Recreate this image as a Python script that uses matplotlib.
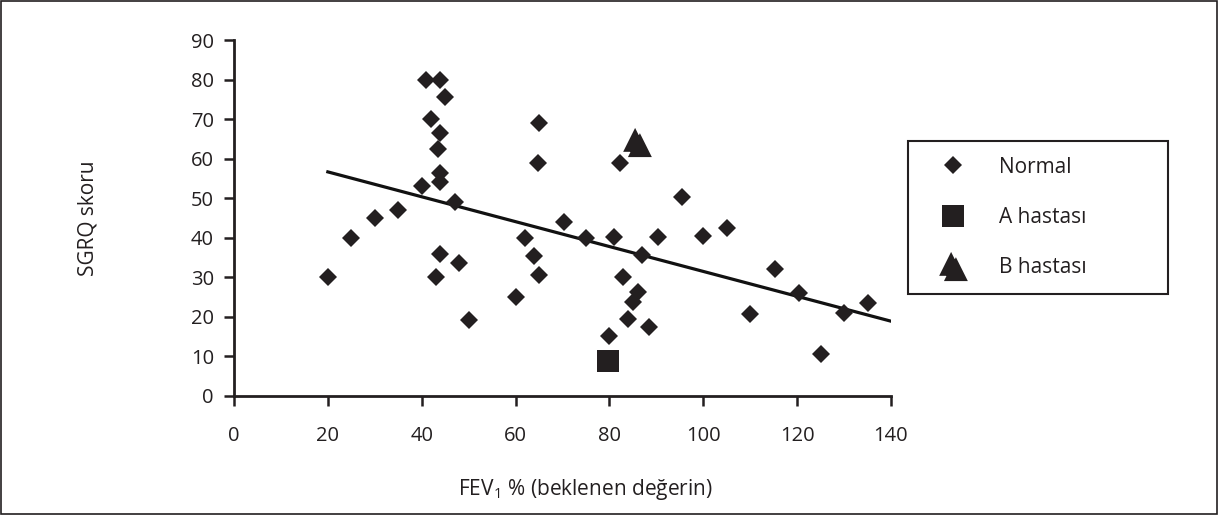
import matplotlib
matplotlib.use("Agg")
import matplotlib.pyplot as plt
import numpy as np
from matplotlib.path import Path
from matplotlib.lines import Line2D

plt.rcParams['font.family'] = ['Open Sans', 'DejaVu Sans']
plt.rcParams['mathtext.fontset'] = 'custom'
plt.rcParams['mathtext.rm'] = 'Open Sans'

# data
normal_x = [20, 25, 30, 35, 40, 41, 44, 45, 42, 44, 43.5, 44, 44, 47, 44, 43, 48, 50,
            60, 62, 64, 65, 64.7, 65, 70.4, 75, 81, 82.3, 87, 90.4, 95.5, 100, 105,
            82.8, 86.2, 85, 84, 88.4, 80, 115.3, 120.4, 110, 130, 135, 125]
normal_y = [30, 40, 45, 47, 53, 80, 80, 75.5, 70, 66.5, 62.5, 56.5, 54, 49, 36, 30, 33.5, 19.3,
            25, 40, 35.3, 30.6, 59, 69, 44, 40, 40.3, 59, 35.6, 40.3, 50.4, 40.4, 42.5,
            30.2, 26.3, 23.8, 19.4, 17.5, 15.2, 32, 26, 20.7, 21, 23.5, 10.6]
a_x = [79.8]
a_y = [8.9]
b_x = [85.8]
b_y = [64.2]

xticks = [0, 20, 40, 60, 80, 100, 120, 140]
yticks = [0, 10, 20, 30, 40, 50, 60, 70, 80, 90]

ink = '#231f20'
fs = 15

# two overlapping triangles, like the original marker
t = np.array([[0, 0.5], [-0.5, -0.5], [0.5, -0.5], [0, 0.5]])
verts = np.vstack([t + [-0.1, 0.11], t + [0.1, -0.11]])
codes = [Path.MOVETO, Path.LINETO, Path.LINETO, Path.CLOSEPOLY] * 2
double_tri = Path(verts, codes)

fig = plt.figure(figsize=(12.18, 5.15), dpi=100)
ax = fig.add_axes([0.1921, 0.2311, 0.5394, 0.6912])

# trend line over the normals
k, b = np.polyfit(normal_x, normal_y, 1)
lx = np.array([20, 140])
ax.plot(lx, k * lx + b, color='#111111', lw=2.3, zorder=2)

ax.plot(normal_x, normal_y, 'D', ms=9.2, color=ink, mec=ink, mew=0, zorder=3)
ax.plot(a_x, a_y, 's', ms=16.5, color=ink, mew=0, zorder=3)
ax.plot(b_x, b_y, marker=double_tri, ls='none', ms=21, color=ink, mew=0, zorder=3)

ax.set_xlim(0, 140)
ax.set_ylim(0, 90)
ax.set_xticks(xticks)
ax.set_yticks(yticks)
ax.spines['top'].set_visible(False)
ax.spines['right'].set_visible(False)
for s in ['left', 'bottom']:
    ax.spines[s].set_linewidth(2)
    ax.spines[s].set_color(ink)
ax.tick_params(axis='both', direction='out', length=7.5, width=1.8, color=ink,
               labelsize=14.5, labelcolor=ink)
ax.tick_params(axis='x', pad=14)
ax.tick_params(axis='y', pad=7)

ax.set_xlabel('FEV$_\\mathregular{1}$ % (beklenen değerin)', fontsize=fs, color=ink)
ax.set_ylabel('SGRQ skoru', fontsize=fs, color=ink)
ax.xaxis.label.set_va('center')
ax.yaxis.label.set_va('center')
ax.xaxis.set_label_coords(0.535, -0.264)
ax.yaxis.set_label_coords(-0.222, 0.5)

handles = [
    Line2D([], [], marker='D', ls='none', ms=9.2, color=ink, mew=0),
    Line2D([], [], marker='s', ms=15.5, ls='none', color=ink, mew=0),
    Line2D([], [], marker=double_tri, ls='none', ms=21, color=ink, mew=0),
]
leg = fig.legend(handles, ['Normal', 'A hastası', 'B hastası'],
                 loc='upper left', bbox_to_anchor=(0.7455, 0.431, 0.2135, 0.2952),
                 mode='expand', borderaxespad=0, fontsize=fs, labelspacing=1.4,
                 borderpad=0.75, handlelength=2.8, handletextpad=0.8, fancybox=False,
                 framealpha=1, edgecolor=ink, labelcolor=ink)
leg.get_frame().set_linewidth(1.5)

# thin frame round the whole figure
fig.patches.append(plt.Rectangle((0.001, 0.001), 0.998, 0.997, transform=fig.transFigure,
                                 fill=False, edgecolor=ink, lw=1.2))

fig.savefig('out.png', dpi=100)
